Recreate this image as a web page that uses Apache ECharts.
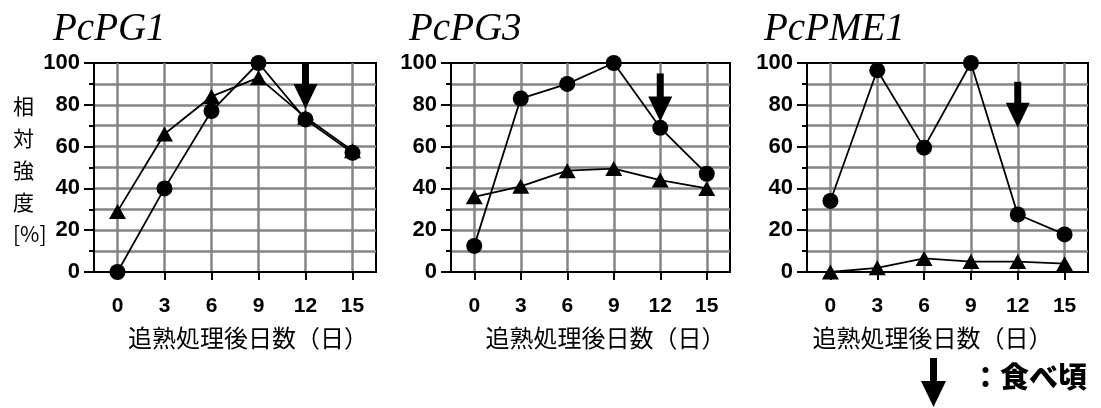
<!DOCTYPE html>
<html><head><meta charset="utf-8">
<script src="https://cdn.jsdelivr.net/npm/echarts@6/dist/echarts.min.js"></script>
<style>html,body{margin:0;padding:0;background:#fff}#c{width:1101px;height:408px}</style>
</head><body><div id="c"></div>
<script>
const days = ['0', '3', '6', '9', '12', '15'];
const yTicks = [0, 20, 40, 60, 80, 100];
const titles = ['PcPG1', 'PcPG3', 'PcPME1'];
const pg1Circle = [0, 40, 77, 100, 73, 57];
const pg1Tri = [29, 66, 84, 93, 74, 58];
const pg3Circle = [12.5, 83, 90, 100, 69, 47];
const pg3Tri = [36, 41, 48.5, 49.5, 44, 40];
const pme1Circle = [34, 96.5, 59.5, 100, 27.5, 18];
const pme1Tri = [0, 2, 6.5, 5, 5, 4];
const arrowDay = '12';
const arrowStart = [100, 95, 91];
const arrowTip = [78, 72, 69];
const xName = '追熟処理後日数（日）';
const yName = ['相', '対', '強', '度', '[%]'];
const legendText = '：食べ頃';

const circles = [pg1Circle, pg3Circle, pme1Circle];
const tris = [pg1Tri, pg3Tri, pme1Tri];

const gridPos = [
  {left: 94, width: 282, titleLeft: 48, namePad: 26},
  {left: 451, width: 279, titleLeft: 404, namePad: 30},
  {left: 807, width: 281, titleLeft: 759, namePad: -30}
];
const GRAY = '#858585';

function arrowRender(params, api) {
  const x = api.value(0);
  const top = api.coord([x, api.value(1)]);
  const tip = api.coord([x, api.value(2)]);
  const headH = 25, headW = 24, shaftW = 7;
  return {
    type: 'group',
    children: [
      {type: 'rect', shape: {x: tip[0] - shaftW / 2, y: top[1], width: shaftW, height: tip[1] - headH - top[1] + 1}, style: {fill: '#000'}},
      {type: 'polygon', shape: {points: [[tip[0] - headW / 2, tip[1] - headH], [tip[0] + headW / 2, tip[1] - headH], [tip[0], tip[1]]]}, style: {fill: '#000'}}
    ]
  };
}

const option = {
  backgroundColor: '#fff',
  animation: false,
  title: gridPos.map((g, i) => ({
    text: titles[i], left: g.titleLeft, top: 5,
    textStyle: {fontFamily: 'Liberation Serif', fontStyle: 'italic', fontWeight: 'normal', fontSize: 39, color: '#000'}
  })),
  grid: gridPos.map(g => ({
    left: g.left, top: 63, width: g.width, height: 209,
    show: true, borderColor: '#000', borderWidth: 2, backgroundColor: 'transparent'
  })),
  xAxis: gridPos.map((g, i) => ({
    type: 'category', gridIndex: i, data: days, boundaryGap: true,
    axisLine: {show: true, lineStyle: {color: '#000', width: 2}},
    axisTick: {show: true, alignWithLabel: true, length: 8, lineStyle: {color: '#000', width: 2}},
    axisLabel: {color: '#000', fontFamily: 'Liberation Sans', fontWeight: 'bold', fontSize: 21, margin: 24},
    splitLine: {show: true, alignWithLabel: true, lineStyle: {color: GRAY, width: 2.5}},
    name: xName, nameLocation: 'middle', nameGap: 54,
    nameTextStyle: {fontFamily: 'Noto Sans CJK JP', fontSize: 24, color: '#000',
      padding: g.namePad >= 0 ? [0, 0, 0, g.namePad] : [0, -g.namePad, 0, 0]}
  })),
  yAxis: gridPos.map((g, i) => ({
    type: 'value', gridIndex: i, min: 0, max: 100, interval: 20,
    axisLine: {show: true, lineStyle: {color: '#000', width: 2}},
    axisTick: {show: true, length: 10, lineStyle: {color: '#000', width: 2}},
    minorTick: {show: true, splitNumber: 2, length: 5, lineStyle: {color: '#000', width: 2}},
    axisLabel: {color: '#000', fontFamily: 'Liberation Sans', fontWeight: 'bold', fontSize: 22, margin: 14,
      customValues: yTicks},
    splitLine: {show: true, showMaxLine: false, showMinLine: false, lineStyle: {color: GRAY, width: 2.5}},
    minorSplitLine: {show: true, lineStyle: {color: GRAY, width: 2.5}}
  })),
  graphic: [
    {type: 'text', left: 13, top: 90, style: {text: yName.join('\n'), fontFamily: 'Noto Sans CJK JP', fontSize: 21, lineHeight: 32, fill: '#000', align: 'center'}},
    {type: 'group', left: 921, top: 358, children: [
      {type: 'rect', shape: {x: 9, y: 0, width: 7, height: 24}, style: {fill: '#000'}},
      {type: 'polygon', shape: {points: [[0, 23], [25, 23], [12.5, 49]]}, style: {fill: '#000'}}
    ]},
    {type: 'text', left: 971, top: 362, style: {text: legendText, fontFamily: 'Noto Sans CJK JP', fontWeight: 900, fontSize: 29, fill: '#000'}}
  ],
  series: []
};

gridPos.forEach((g, i) => {
  option.series.push({
    type: 'line', xAxisIndex: i, yAxisIndex: i, data: circles[i], z: 3,
    symbol: 'circle', symbolSize: 16, showAllSymbol: true,
    lineStyle: {color: '#000', width: 1.8}, itemStyle: {color: '#000'}
  });
  option.series.push({
    type: 'line', xAxisIndex: i, yAxisIndex: i, data: tris[i], z: 3,
    symbol: 'triangle', symbolSize: [17, 15], showAllSymbol: true,
    lineStyle: {color: '#000', width: 1.8}, itemStyle: {color: '#000'}
  });
  option.series.push({
    type: 'custom', xAxisIndex: i, yAxisIndex: i, z: 4,
    renderItem: arrowRender,
    data: [[days.indexOf(arrowDay), arrowStart[i], arrowTip[i]]]
  });
});

const chart = echarts.init(document.getElementById('c'), null, {renderer: 'canvas'});
chart.setOption(option);
</script></body></html>
